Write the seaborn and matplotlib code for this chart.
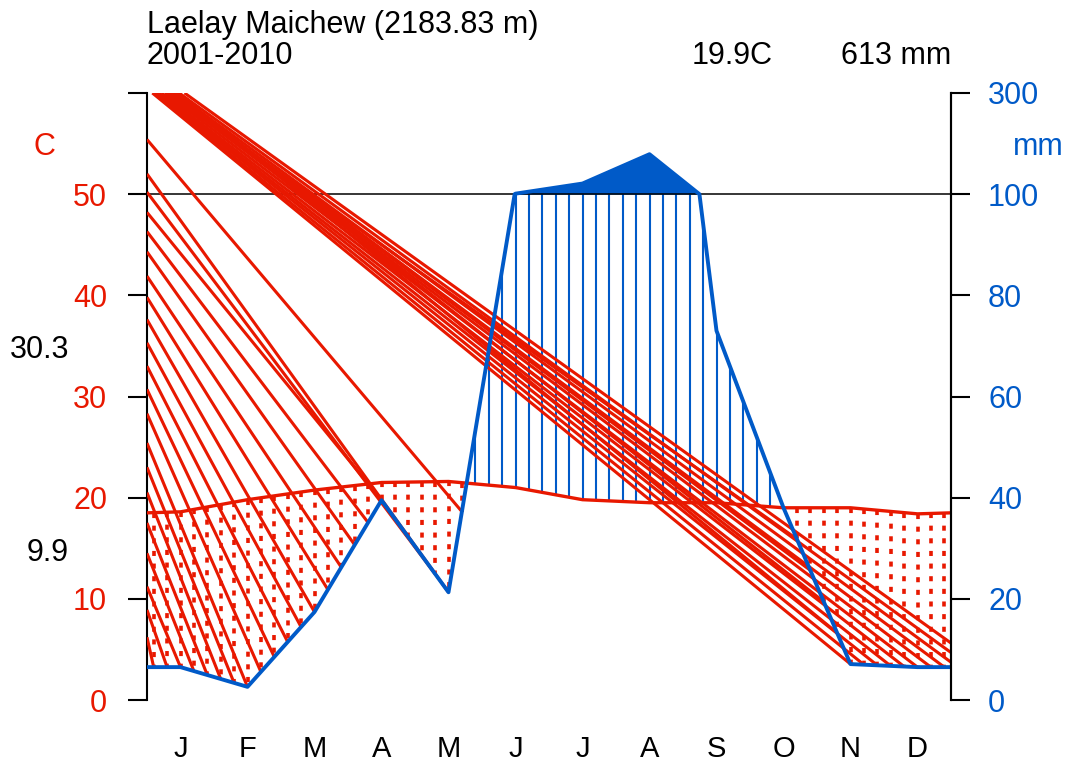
import numpy as np
import matplotlib
matplotlib.use("Agg")
import matplotlib.pyplot as plt
import seaborn as sns

# --- data ---
station = "Laelay Maichew (2183.83 m)"
period = "2001-2010"
month_labels = ["J", "F", "M", "A", "M", "J", "J", "A", "S", "O", "N", "D"]
temp_c = [18.6, 19.8, 20.75, 21.5, 21.6, 21.0, 19.8, 19.5, 19.5, 19.0, 19.0, 18.4]
prec_mm = [6.5, 2.6, 17.4, 39.5, 21.3, 101, 121, 179, 73, 38, 7.1, 6.5]
max_warm_label = "30.3"
min_cold_label = "9.9"
mm_ticks = [0, 20, 40, 60, 80, 100, 300]

# stray red streaks seen in the original rendering
# group A: start on the left axis (C) -> end at a dry-hatch column (month pos)
streak_a_start = [55.4, 52.0, 50.2, 48.2, 46.3, 44.3, 41.9, 39.8, 37.6, 35.3, 33.0,
                  30.7, 28.3, 25.4, 23.0, 20.5, 17.5, 14.5, 11.2, 8.9, 6.2]
streak_a_end = [4.7, 4.5, 4.3, 3.5, 3.3, 3.1, 2.9, 2.7, 2.5, 2.3, 2.1,
                1.9, 1.7, 1.5, 1.3, 1.1, 0.9, 0.7, 0.5, 0.3, 0.1]
# group B: start on the top edge (month pos) -> end at a dry-hatch column
streak_b_start = [0.08, 0.11, 0.15, 0.18, 0.22, 0.27, 0.32, 0.37, 0.42, 0.48, 0.56,
                  0.30, 0.35, 0.40, 0.45]
streak_b_end = [10.5, 10.7, 10.9, 11.1, 11.3, 11.5, 11.7, 11.9, 12.1, 12.3, 12.5,
                9.7, 9.9, 10.1, 10.3]

tcol = "#e81800"
pcol = "#005ac8"

sns.set_style("white")
plt.rcParams["font.family"] = ["Liberation Sans", "DejaVu Sans"]
plt.rcParams["font.size"] = 22
plt.rcParams["text.color"] = "black"

W, H = 1066, 761
fig = plt.figure(figsize=(W / 100, H / 100), dpi=100)
ax = fig.add_axes([147 / W, 1 - 700 / H, 804 / W, 607 / H])


def p_scale(mm):
    mm = np.asarray(mm, dtype=float)
    return np.where(mm <= 100, mm / 2, 50 + (mm - 100) / 20)


def add_crossings(x, y, level=100):
    xs, ys = [x[0]], [y[0]]
    for i in range(1, len(x)):
        if (y[i - 1] - level) * (y[i] - level) < 0:
            f = (level - y[i - 1]) / (y[i] - y[i - 1])
            xs.append(x[i - 1] + f * (x[i] - x[i - 1]))
            ys.append(level)
        xs.append(x[i])
        ys.append(y[i])
    return np.array(xs), np.array(ys)


mid = np.arange(12) + 0.5
xe = np.concatenate([[0], mid, [12]])
t_edge = (temp_c[0] + temp_c[-1]) / 2
p_edge = (prec_mm[0] + prec_mm[-1]) / 2
te = np.concatenate([[t_edge], temp_c, [t_edge]])
pe = np.concatenate([[p_edge], prec_mm, [p_edge]])
px, pmm = add_crossings(xe, pe)
ps = p_scale(pmm)

# hatching columns
cols = np.arange(0.1, 12, 0.2)
t_col = np.interp(cols, xe, te)
p_col = p_scale(np.interp(cols, px, pmm))
wet = p_col > t_col
dry = ~wet

ax.fill_between(px, 50, ps, where=pmm >= 100, color=pcol, lw=0, zorder=2)
ax.vlines(cols[wet], t_col[wet], np.minimum(p_col[wet], 50), color=pcol, lw=1.5, zorder=2)
ax.vlines(cols[dry], t_col[dry], p_col[dry], color=tcol, lw=2.6,
          linestyles=[(0, (1.4, 2.1))], zorder=3)

ax.axhline(50, color="black", lw=1.1, zorder=2.5)


def p_at(m):
    return float(p_scale(np.interp(m, px, pmm)))


for s, e in zip(streak_a_start, streak_a_end):
    ax.plot([0, e], [s, p_at(e)], color=tcol, lw=2.2, solid_capstyle="butt", zorder=4)
for s, e in zip(streak_b_start, streak_b_end):
    ax.plot([s, e], [60, p_at(e)], color=tcol, lw=2.2, solid_capstyle="butt", zorder=4)

sns.lineplot(x=xe, y=te, color=tcol, lw=2.4, sort=False, ax=ax, zorder=5)
sns.lineplot(x=px, y=ps, color=pcol, lw=2.8, sort=False, ax=ax, zorder=6)

ax.set_xlim(0, 12)
ax.set_ylim(0, 60)
for side in ["top", "bottom"]:
    ax.spines[side].set_visible(False)
for side in ["left", "right"]:
    ax.spines[side].set_color("black")
    ax.spines[side].set_linewidth(1.5)

# month boundaries as ticks, month names on minor ticks at mid-month
ax.set_xticks(np.arange(13))
ax.set_xticklabels([])
ax.set_xticks(mid, minor=True)
ax.set_xticklabels(month_labels, minor=True, fontsize=21)
ax.tick_params(axis="x", which="major", direction="out", length=11, width=1.5, color="black")
ax.tick_params(axis="x", which="minor", length=0, pad=25, labelcolor="black")

ax.set_yticks(np.arange(0, 61, 10))
ax.set_yticklabels([str(v) for v in range(0, 51, 10)] + [""])
ax.tick_params(axis="y", direction="out", length=13.7, width=1.5, pad=15,
               labelcolor=tcol, color="black")

ax2 = ax.twinx()
ax2.set_ylim(0, 60)
ax2.set_yticks(p_scale(mm_ticks))
ax2.set_yticklabels([str(v) for v in mm_ticks])
ax2.tick_params(axis="y", direction="out", length=13.7, width=1.5, pad=13,
                labelcolor=pcol, color="black")
for side in ["top", "bottom", "left"]:
    ax2.spines[side].set_visible(False)
ax2.spines["right"].set_linewidth(1.5)
ax2.spines["right"].set_color("black")


def ftext(x, y, s, **kw):
    fig.text(x / W, 1 - y / H, s, va="baseline", **kw)


ftext(147, 33, station, ha="left")
ftext(147, 64, period, ha="left")
ftext(773, 64, f"{np.mean(temp_c):.1f}C", ha="right")
ftext(951, 64, f"{np.sum(prec_mm):.0f} mm", ha="right")
ftext(44, 155, "C", ha="center", color=tcol)
ftext(1038, 155, "mm", ha="center", color=pcol)
ftext(40, 358, max_warm_label, ha="center")
ftext(48, 561, min_cold_label, ha="center")

fig.savefig("out.png", dpi=100)
